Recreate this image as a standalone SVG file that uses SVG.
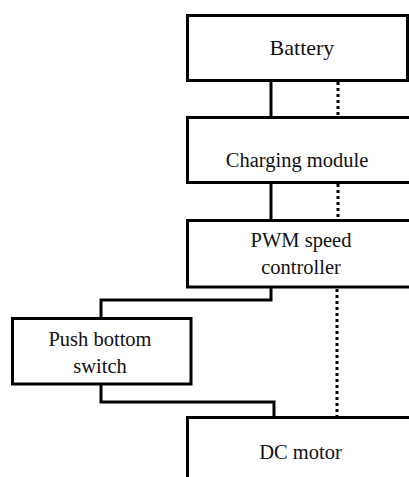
<svg xmlns="http://www.w3.org/2000/svg" width="409" height="477" viewBox="0 0 409 477">
<style>
.box{fill:#fff;stroke:#000;stroke-width:3}
.lbl{font-family:"Liberation Serif","Times New Roman",serif;font-size:20.5px;fill:#111;text-anchor:middle}
.wire{fill:none;stroke:#000;stroke-width:3}
.dot{fill:none;stroke:#000;stroke-width:3;stroke-dasharray:3 3}
</style>
<rect width="409" height="477" fill="#fff"/>
<g id="connectors">
<line class="wire" x1="271" y1="80" x2="271" y2="117"/>
<line class="dot" x1="338" y1="82" x2="338" y2="117"/>
<line class="wire" x1="271" y1="182" x2="271" y2="220"/>
<line class="dot" x1="338" y1="184" x2="338" y2="220"/>
<path class="wire" d="M271 287 V300 H101 V318"/>
<path class="wire" d="M101 384 V402 H274 V417"/>
<line class="dot" x1="337" y1="289" x2="337" y2="416"/>
</g>
<g id="battery">
<rect class="box" x="187.5" y="15.5" width="220" height="65"/>
<text class="lbl" x="302" y="55" style="font-size:22px">Battery</text>
</g>
<g id="charging">
<rect class="box" x="187.5" y="117.5" width="240" height="65"/>
<text class="lbl" x="297" y="167">Charging module</text>
</g>
<g id="pwm">
<rect class="box" x="187.5" y="220.5" width="240" height="66.5"/>
<text class="lbl" x="301" y="247">PWM speed</text>
<text class="lbl" x="301" y="274">controller</text>
</g>
<g id="switch">
<rect class="box" x="12.5" y="318.5" width="178.5" height="65.5"/>
<text class="lbl" x="100" y="346">Push bottom</text>
<text class="lbl" x="100" y="373">switch</text>
</g>
<g id="motor">
<rect class="box" x="187.5" y="417.5" width="240" height="80"/>
<text class="lbl" x="300.5" y="459">DC motor</text>
</g>
</svg>
